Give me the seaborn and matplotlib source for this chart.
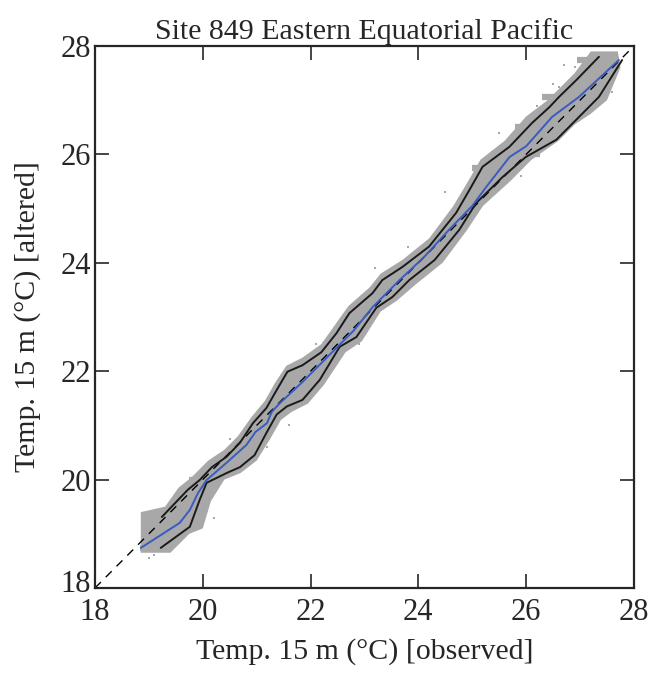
import numpy as np
import pandas as pd
import matplotlib
matplotlib.use("Agg")
import matplotlib.pyplot as plt
import matplotlib.transforms as mtransforms
import seaborn as sns

# ---- data ----
title = "Site 849 Eastern Equatorial Pacific"
xlabel = "Temp. 15 m (°C) [observed]"
ylabel = "Temp. 15 m (°C) [altered]"
ticks = [18, 20, 22, 24, 26, 28]

# median (blue)
med_x = [18.85, 19.57, 19.76, 19.91, 20.07, 20.44, 20.81, 20.98, 21.19, 21.28, 21.43, 21.85,
         22.3, 22.8, 23.15, 23.28, 23.65, 24.1, 24.57, 25.0, 25.26, 25.69, 26.0, 26.48, 26.98, 27.35, 27.72]
med_y = [18.74, 19.20, 19.44, 19.75, 19.99, 20.31, 20.64, 20.88, 21.04, 21.25, 21.41, 21.80,
         22.25, 22.75, 23.18, 23.31, 23.68, 24.1, 24.61, 25.05, 25.40, 25.95, 26.15, 26.69, 27.06, 27.40, 27.74]

# upper envelope
up_x = [19.24, 19.72, 19.94, 20.17, 20.44, 20.69, 20.93, 21.18, 21.37, 21.57, 21.85, 22.20, 22.48,
        22.72, 23.15, 23.33, 23.70, 24.20, 24.70, 24.98, 25.19, 25.69, 26.11, 26.43, 26.61, 26.93, 27.35]
up_y = [19.31, 19.81, 19.99, 20.23, 20.42, 20.68, 21.04, 21.32, 21.65, 21.99, 22.11, 22.35, 22.70,
        23.07, 23.44, 23.68, 23.92, 24.30, 24.92, 25.40, 25.77, 26.14, 26.58, 26.87, 27.06, 27.37, 27.80]

# lower envelope
lo_x = [19.22, 19.76, 19.94, 20.07, 20.44, 20.69, 20.96, 21.18, 21.37, 21.56, 21.85, 22.17, 22.54,
        22.85, 23.22, 23.52, 23.83, 24.30, 24.76, 25.07, 25.56, 25.99, 26.56, 26.98, 27.35, 27.78]
lo_y = [18.74, 19.13, 19.62, 19.94, 20.12, 20.23, 20.45, 20.86, 21.20, 21.35, 21.47, 21.84, 22.45,
        22.63, 23.17, 23.37, 23.68, 24.05, 24.61, 25.10, 25.58, 25.95, 26.27, 26.69, 27.06, 27.74]

# extent of the dense point cloud (polygon outline)
cloud_x = [18.85, 18.85, 19.3, 19.55, 19.8, 20.1, 20.4, 20.65, 20.9, 21.15, 21.35, 21.55, 21.85, 22.2,
           22.45, 22.7, 23.1, 23.3, 23.7, 24.2, 24.65, 24.95, 25.15, 25.6, 26.0, 26.4, 26.9, 27.2, 27.7,
           27.75, 27.5, 27.2, 26.9, 26.6, 26.1, 25.7, 25.2, 24.9, 24.45, 23.95, 23.6, 23.3, 22.95,
           22.65, 22.25, 21.95, 21.65, 21.45, 21.25, 21.0, 20.7, 20.4, 20.15, 20.0, 19.75, 19.4]
cloud_y = [18.65, 19.4, 19.5, 19.85, 20.05, 20.35, 20.55, 20.8, 21.15, 21.45, 21.8, 22.1, 22.25, 22.5,
           22.85, 23.2, 23.55, 23.8, 24.05, 24.45, 25.05, 25.55, 25.9, 26.25, 26.7, 27.0, 27.5, 27.9, 27.9,
           27.6, 27.0, 26.75, 26.55, 26.25, 25.9, 25.5, 25.05, 24.6, 24.0, 23.6, 23.3, 23.1, 22.55,
           22.35, 21.75, 21.4, 21.25, 21.1, 20.75, 20.35, 20.12, 20.0, 19.6, 19.1, 19.0, 18.65]

# horizontal streaks of points (y level, x start, x end)
streak_y = [27.75, 27.05, 26.50, 26.00, 25.75, 19.25, 18.74, 19.80, 20.00]
streak_x0 = [26.95, 26.30, 25.80, 25.35, 25.00, 18.87, 18.83, 19.55, 19.75]
streak_x1 = [27.72, 27.45, 26.75, 26.25, 25.80, 19.94, 19.20, 20.07, 20.30]

# scattered outlying points
out_x = [26.7, 26.9, 27.0, 26.5, 26.6, 27.6, 27.3, 26.2, 26.9, 25.5, 25.2, 24.5, 24.3, 23.2, 22.1,
         21.6, 21.2, 20.5, 20.3, 19.6, 19.3, 19.0, 19.1, 20.2, 22.9, 23.8, 24.9, 25.9, 27.1]
out_y = [27.65, 27.62, 27.28, 27.30, 27.25, 27.15, 26.9, 26.9, 26.6, 26.4, 25.6, 25.3, 24.0, 23.9,
         22.5, 21.0, 20.6, 20.75, 20.15, 19.55, 18.9, 18.55, 18.6, 19.3, 22.5, 24.3, 24.7, 25.6, 26.8]

# ---- drawing ----
sns.set_style("ticks")
plt.rcParams["font.family"] = ["Liberation Serif", "DejaVu Serif"]
plt.rcParams["mathtext.fontset"] = "stix"

fig = plt.figure(figsize=(6.56, 6.74), dpi=100)
ax = fig.add_axes([0.1448, 0.1276, 0.8216, 0.8042])

gray = "#a8a8a8"
ax.fill(cloud_x, cloud_y, color=gray, lw=0, zorder=1)
for yy, a, b in zip(streak_y, streak_x0, streak_x1):
    ax.plot([a, b], [yy, yy], color=gray, lw=4.5, solid_capstyle="butt", zorder=1)
sns.scatterplot(x=out_x, y=out_y, ax=ax, color=gray, s=3, marker="s", linewidth=0, zorder=1)

ax.plot([18, 28], [18, 28], color="black", lw=1.0, ls=(0, (6, 5)), zorder=2)
sns.lineplot(x=up_x, y=up_y, ax=ax, sort=False, color="#1a1a1a", lw=1.4, zorder=3)
sns.lineplot(x=lo_x, y=lo_y, ax=ax, sort=False, color="#1a1a1a", lw=1.4, zorder=3)
sns.lineplot(x=med_x, y=med_y, ax=ax, sort=False, color="#3a5bbf", lw=1.4, zorder=4)

ax.set_xlim(18, 28)
ax.set_ylim(18, 28)
ax.set_xticks(ticks)
ax.set_yticks(ticks)
ax.tick_params(direction="in", length=10, width=1.2, top=True, right=True, labelsize=22)
ax.tick_params(axis="x", pad=7.5)
ax.tick_params(axis="y", pad=3)
for s in ax.spines.values():
    s.set_linewidth(1.6)
    s.set_visible(True)

# nudge the lowest y tick label up a little, as in the reference
first = ax.yaxis.get_major_ticks()[0].label1
first.set_transform(first.get_transform() +
                    mtransforms.ScaledTranslation(0, 5 / 72, fig.dpi_scale_trans))

ax.set_title(title, fontsize=21.5, pad=5)
ax.set_xlabel(xlabel, fontsize=21.5, labelpad=8)
ax.set_ylabel(ylabel, fontsize=21.5, labelpad=14)

fig.savefig("out.png", dpi=100)
